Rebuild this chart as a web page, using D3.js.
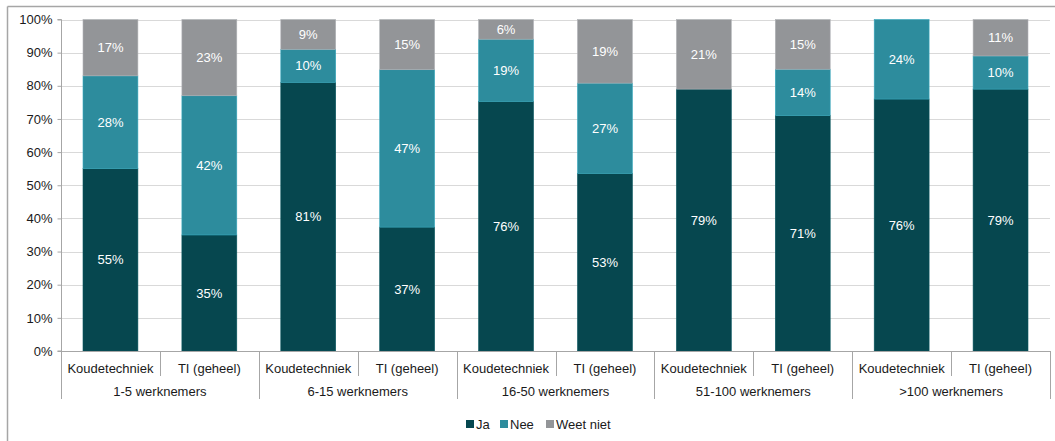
<!DOCTYPE html>
<html>
<head>
<meta charset="utf-8">
<script src="https://cdn.jsdelivr.net/npm/d3@7"></script>
<style>
  body { margin: 0; background: #fff; }
  svg { display: block; font-family: "Liberation Sans", Arial, sans-serif; }
</style>
</head>
<body>
<svg id="chart" width="1055" height="441"></svg>
<script>
// Size classes (outer axis level) and sector (inner axis level)
const groups = ["1-5 werknemers", "6-15 werknemers", "16-50 werknemers", "51-100 werknemers", ">100 werknemers"];
const sectors = ["Koudetechniek", "TI (geheel)"];
const seriesNames = ["Ja", "Nee", "Weet niet"];
const seriesColors = ["#06474f", "#2d8c9d", "#939598"];

// Percentages per bar, in order group × sector
const ja       = [55, 35, 81, 37, 76, 53, 79, 71, 76, 79];
const nee      = [28, 42, 10, 47, 19, 27,  0, 14, 24, 10];
const weetNiet = [17, 23,  9, 15,  6, 19, 21, 15,  0, 11];

const yTicks = [0, 10, 20, 30, 40, 50, 60, 70, 80, 90, 100];

const rows = [];
groups.forEach((g, gi) => sectors.forEach((s, si) => {
  const i = gi * sectors.length + si;
  rows.push({ key: g + "|" + s, group: g, sector: s, "Ja": ja[i], "Nee": nee[i], "Weet niet": weetNiet[i] });
}));

const svg = d3.select("#chart");
const margin = { left: 61, right: 5, top: 19.5, bottom: 90 };
const W = 1055, H = 441;
const plotBottom = 351;
const plotRight = 1050;

// Chart frame
svg.append("line").attr("x1", 7.5).attr("x2", W).attr("y1", 6.5).attr("y2", 6.5)
  .attr("stroke", "#a6a6a6").attr("stroke-width", 1.5);
svg.append("line").attr("x1", 7.5).attr("x2", 7.5).attr("y1", 6.5).attr("y2", H)
  .attr("stroke", "#a6a6a6").attr("stroke-width", 1.5);

const x = d3.scaleBand().domain(rows.map(d => d.key))
  .range([margin.left, plotRight]).paddingInner(0.445).paddingOuter(0.2225);
const xGroup = d3.scaleBand().domain(groups).range([margin.left, plotRight]);
const y = d3.scaleLinear().domain([0, 1]).range([plotBottom, margin.top]);

// Gridlines
svg.append("g").selectAll("line").data(yTicks.slice(1)).join("line")
  .attr("x1", margin.left).attr("x2", plotRight)
  .attr("y1", d => Math.round(y(d / 100)) + 0.5).attr("y2", d => Math.round(y(d / 100)) + 0.5)
  .attr("stroke", "#d9d9d9").attr("stroke-width", 1);

// Stacked, normalised to 100%
const stack = d3.stack().keys(seriesNames).offset(d3.stackOffsetExpand);
const layers = stack(rows);

const gBars = svg.append("g");
layers.forEach((layer, li) => {
  const g = gBars.append("g");
  g.selectAll("rect").data(layer.filter(d => d[1] - d[0] > 0)).join("rect")
    .attr("x", d => x(d.data.key))
    .attr("width", x.bandwidth())
    .attr("y", d => y(d[1]))
    .attr("height", d => y(d[0]) - y(d[1]))
    .attr("fill", seriesColors[li])
    .attr("stroke", d3.color(seriesColors[li]).brighter(0.5))
    .attr("stroke-width", 0.6);
});

// Value labels
layers.forEach((layer, li) => {
  gBars.append("g").selectAll("text").data(layer.filter(d => d.data[seriesNames[li]] > 0)).join("text")
    .attr("x", d => x(d.data.key) + x.bandwidth() / 2)
    .attr("y", d => (y(d[0]) + y(d[1])) / 2)
    .attr("dy", "0.35em")
    .attr("text-anchor", "middle")
    .attr("fill", "#ffffff")
    .attr("font-size", 13)
    .text(d => d.data[seriesNames[li]] + "%");
});

// Y axis
const yAxis = d3.axisLeft(y).tickValues(yTicks.map(v => v / 100))
  .tickFormat(d => Math.round(d * 100) + "%").tickSize(4).tickPadding(5);
const gy = svg.append("g").attr("transform", `translate(${margin.left + 0.5},0)`).call(yAxis);
gy.select(".domain").attr("stroke", "#a6a6a6").attr("d", `M-4,${plotBottom}H0V${margin.top}H-4`);
gy.selectAll(".tick line").attr("stroke", "#a6a6a6");
gy.selectAll(".tick text").attr("font-size", 13).attr("fill", "#1a1a1a")
  .attr("font-family", "Liberation Sans, Arial, sans-serif");

// Category axis: baseline, inner and outer separators
const axisG = svg.append("g");
axisG.append("line").attr("x1", margin.left).attr("x2", plotRight + 0.5)
  .attr("y1", plotBottom + 0.5).attr("y2", plotBottom + 0.5).attr("stroke", "#a6a6a6");

const innerSeps = groups.map(g => xGroup(g) + xGroup.bandwidth() / 2);
axisG.selectAll("line.inner").data(innerSeps).join("line").attr("class", "inner")
  .attr("x1", d => Math.round(d) + 0.5).attr("x2", d => Math.round(d) + 0.5)
  .attr("y1", plotBottom).attr("y2", 376).attr("stroke", "#a6a6a6");

const outerSeps = groups.map(g => xGroup(g)).concat([plotRight]);
axisG.selectAll("line.outer").data(outerSeps).join("line").attr("class", "outer")
  .attr("x1", d => Math.round(d) + 0.5).attr("x2", d => Math.round(d) + 0.5)
  .attr("y1", plotBottom).attr("y2", 399).attr("stroke", "#a6a6a6");

axisG.selectAll("text.sector").data(rows).join("text").attr("class", "sector")
  .attr("x", d => x(d.key) + x.bandwidth() / 2).attr("y", 368).attr("dy", "0.35em")
  .attr("text-anchor", "middle").attr("font-size", 13).attr("fill", "#1a1a1a")
  .text(d => d.sector);

axisG.selectAll("text.group").data(groups).join("text").attr("class", "group")
  .attr("x", d => xGroup(d) + xGroup.bandwidth() / 2).attr("y", 391.5).attr("dy", "0.35em")
  .attr("text-anchor", "middle").attr("font-size", 13).attr("fill", "#1a1a1a")
  .text(d => d);

// Legend
const legendX = [466, 500, 546];
const legend = svg.append("g");
seriesNames.forEach((name, i) => {
  legend.append("rect").attr("x", legendX[i]).attr("y", 420).attr("width", 8).attr("height", 8)
    .attr("fill", seriesColors[i]);
  legend.append("text").attr("x", legendX[i] + 10).attr("y", 424).attr("dy", "0.35em")
    .attr("font-size", 13).attr("fill", "#1a1a1a").text(name);
});
</script>
</body>
</html>
